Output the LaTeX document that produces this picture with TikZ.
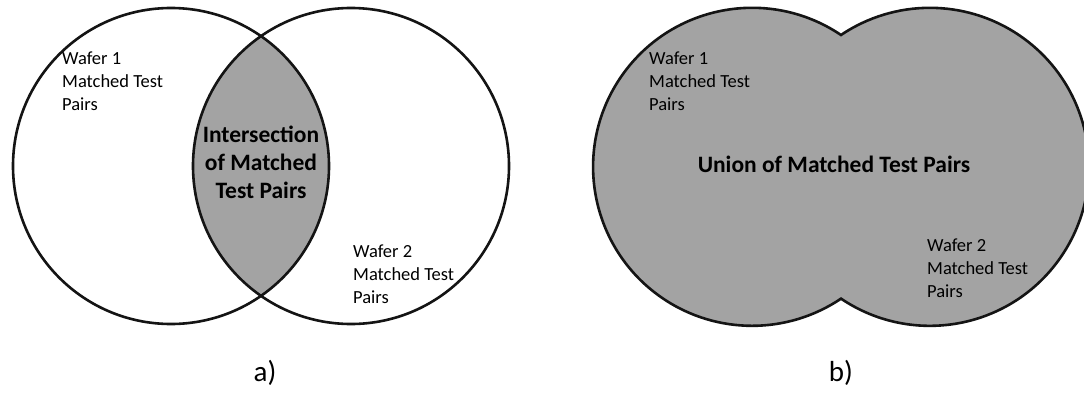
\documentclass[tikz,border=0pt]{standalone}
\usepackage{fontspec}
\setmainfont{Carlito}
\definecolor{venngray}{RGB}{163,163,163}
\definecolor{inkline}{RGB}{20,20,20}
\begin{document}
\begin{tikzpicture}[x=1pt,y=-1pt,
  outline/.style={draw=inkline,line width=2.6pt},
  setlabel/.style={anchor=north west,inner sep=0pt,align=left,
    font=\fontsize{18.5pt}{22.6pt}\selectfont},
  setname/.style={inner sep=0pt,align=center,
    font=\fontsize{23.5pt}{28pt}\selectfont\bfseries},
  caption/.style={anchor=base,inner sep=0pt,font=\fontsize{29pt}{33pt}\selectfont}]
\useasboundingbox (0,0) rectangle (1084,396);
\fill[white] (0,0) rectangle (1084,396);

% a) intersection
\coordinate (a1) at (171,166);
\coordinate (a2) at (351,166);
\begin{scope}
  \clip (a1) circle[radius=158];
  \fill[venngray] (a2) circle[radius=158];
\end{scope}
\draw[outline] (a1) circle[radius=158];
\draw[outline] (a2) circle[radius=158];
\node[setlabel] (aw1) at (62,52) {Wafer 1\\Matched Test\\Pairs};
\node[setlabel] (aw2) at (353,245) {Wafer 2\\Matched Test\\Pairs};
\node[setname,anchor=north] (inter) at (261,126) {Intersection\\of Matched\\Test Pairs};
\node[caption] (capa) at (265,381) {a)};

% b) union
\coordinate (b1) at (752,167);
\coordinate (b2) at (930,167);
\coordinate (btop) at (841,35);
\fill[venngray] (b1) circle[radius=159];
\fill[venngray] (b2) circle[radius=159];
\draw[outline,line join=miter] (btop)
  arc[start angle=304,end angle=56,radius=159]
  arc[start angle=124,end angle=-124,radius=159] -- cycle;
\node[setlabel] (bw1) at (649,52) {Wafer 1\\Matched Test\\Pairs};
\node[setlabel] (bw2) at (927,239) {Wafer 2\\Matched Test\\Pairs};
\node[setname,anchor=base] (union) at (834,172) {Union of Matched Test Pairs};
\node[caption] (capb) at (841,381) {b)};
\end{tikzpicture}
\end{document}
